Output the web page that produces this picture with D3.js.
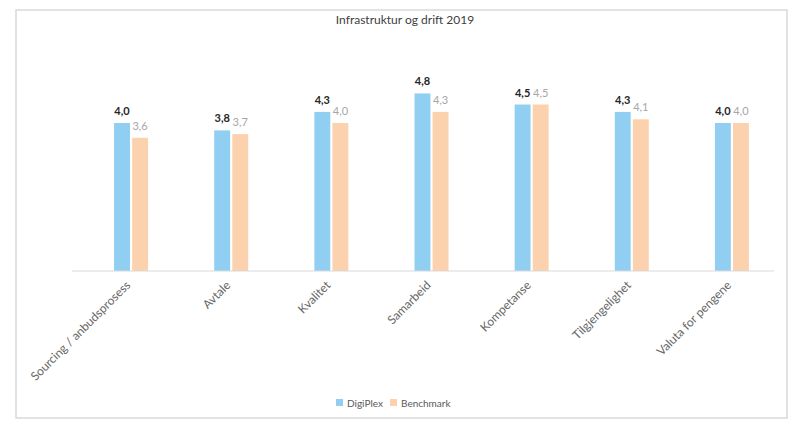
<!DOCTYPE html>
<html>
<head>
<meta charset="utf-8">
<script src="https://cdn.jsdelivr.net/npm/d3@7"></script>
<style>
  body { margin: 0; background: #fff; }
  text { font-family: "Lato", "Open Sans", sans-serif; }
</style>
</head>
<body>
<div id="chart"></div>
<script>
// data
var categories = ["Sourcing / anbudsprosess", "Avtale", "Kvalitet", "Samarbeid", "Kompetanse", "Tilgjengelighet", "Valuta for pengene"];
var digiplex = [4.0, 3.8, 4.3, 4.8, 4.5, 4.3, 4.0];
var benchmark = [3.6, 3.7, 4.0, 4.3, 4.5, 4.1, 4.0];
var seriesNames = ["DigiPlex", "Benchmark"];
var colors = ["#91cff2", "#fcd2ae"];

var width = 800, height = 426;
var baseline = 271;

var svg = d3.select("#chart").append("svg")
  .attr("width", width)
  .attr("height", height);

// frame
svg.append("rect")
  .attr("x", 16).attr("y", 10)
  .attr("width", 771).attr("height", 408)
  .attr("fill", "#fff")
  .attr("stroke", "#d9d9d9")
  .attr("stroke-width", 1.5);

svg.append("text")
  .attr("x", 405).attr("y", 24)
  .attr("text-anchor", "middle")
  .attr("font-size", 12)
  .attr("fill", "#404040")
  .text("Infrastruktur og drift 2019");

var x = d3.scaleBand().domain(categories).range([81, 782]);
var xs = d3.scaleBand().domain(seriesNames).range([-17, 17]).paddingInner(0.12);
var y = d3.scaleLinear().domain([0, 5]).range([baseline, baseline - 185]);

var rows = categories.map(function(c, i){
  return { cat: c, vals: [digiplex[i], benchmark[i]] };
});

var groups = svg.selectAll(".grp")
  .data(rows)
  .enter().append("g")
  .attr("class", "grp")
  .attr("transform", function(d){ return "translate(" + (x(d.cat) + x.bandwidth() / 2) + ",0)"; });

groups.selectAll("rect")
  .data(function(d){ return d.vals.map(function(v, j){ return { name: seriesNames[j], v: v, j: j }; }); })
  .enter().append("rect")
  .attr("x", function(d){ return xs(d.name); })
  .attr("width", xs.bandwidth())
  .attr("y", function(d){ return y(d.v); })
  .attr("height", function(d){ return baseline - y(d.v); })
  .attr("fill", function(d){ return colors[d.j]; });

groups.selectAll(".lbl")
  .data(function(d){ return d.vals.map(function(v, j){ return { name: seriesNames[j], v: v, j: j }; }); })
  .enter().append("text")
  .attr("class", "lbl")
  .attr("x", function(d){ return xs(d.name) + xs.bandwidth() / 2; })
  .attr("y", function(d){ return y(d.v) - 8; })
  .attr("text-anchor", "middle")
  .attr("font-size", 11)
  .attr("font-weight", function(d){ return d.j == 0 ? "bold" : "normal"; })
  .attr("fill", function(d){ return d.j == 0 ? "#262626" : "#a6a6a6"; })
  .text(function(d){ return d.v.toFixed(1).replace(".", ","); });

// axis line
svg.append("line")
  .attr("x1", 72).attr("x2", 774)
  .attr("y1", baseline).attr("y2", baseline)
  .attr("stroke", "#d9d9d9")
  .attr("stroke-width", 1);

// category labels
svg.selectAll(".cat")
  .data(categories)
  .enter().append("text")
  .attr("class", "cat")
  .attr("transform", function(d){ return "translate(" + (x(d) + x.bandwidth() / 2) + "," + (baseline + 15) + ") rotate(-45)"; })
  .attr("text-anchor", "end")
  .attr("font-size", 12)
  .attr("fill", "#666666")
  .text(function(d){ return d; });

// legend
var legend = svg.append("g").attr("transform", "translate(336,403)");
var lx = [0, 54];
seriesNames.forEach(function(n, i){
  legend.append("rect")
    .attr("x", lx[i]).attr("y", -4)
    .attr("width", 7).attr("height", 7)
    .attr("fill", colors[i]);
  legend.append("text")
    .attr("x", lx[i] + 11).attr("y", 3.5)
    .attr("font-size", 10)
    .attr("fill", "#595959")
    .text(n);
});
</script>
</body>
</html>
